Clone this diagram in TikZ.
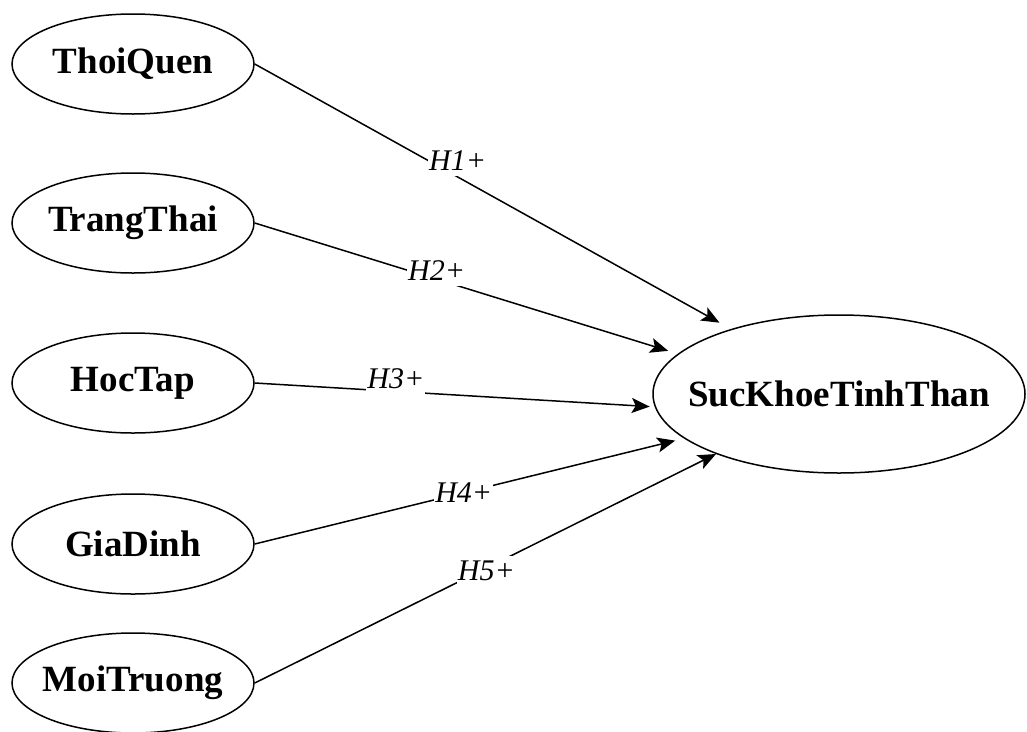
\documentclass[tikz,border=0pt]{standalone}
\usepackage{fontspec}
\setmainfont{Liberation Serif}
\usepackage{tikz}
\usetikzlibrary{shapes,arrows.meta}

\begin{document}
\begin{tikzpicture}[x=1pt, y=-1pt,
   factor/.style={draw, ellipse, line width=1.5pt, inner xsep=-10pt, inner ysep=0pt,
     minimum width=242pt, minimum height=100pt,
     font=\fontsize{37}{44}\selectfont\bfseries},
   link/.style={line width=1.5pt, -{Stealth[length=18pt, width=15pt, inset=4pt]}},
   hyp/.style={fill=white, inner xsep=1pt, inner ysep=5pt, font=\fontsize{30}{36}\selectfont\itshape}]
   \useasboundingbox (0,0) rectangle (1027,731);
   % predictors
   \node[factor] (thoiquen) at (133,64) {ThoiQuen};
   \node[factor] (trangthai) at (133,223) {TrangThai};
   \node[factor] (hoctap) at (133,383) {HocTap};
   \node[factor] (giadinh) at (133,544) {GiaDinh};
   \node[factor] (moitruong) at (133,683) {MoiTruong};
   % outcome
   \node[factor, inner xsep=-30pt, minimum width=372pt, minimum height=158pt] (suckhoe) at (839,394) {SucKhoeTinhThan};
   % hypotheses
   \draw[link, shorten >=13pt] (thoiquen.east) -- node[hyp, pos=.426, yshift=16pt] {H1+} (suckhoe.149.4);
   \draw[link, shorten >=10pt] (trangthai.east) -- node[hyp, pos=.43, yshift=8.5pt] {H2+} (suckhoe.166.7);
   \draw[link, shorten >=5pt] (hoctap.east) -- node[hyp, pos=.353, yshift=13pt] {H3+} (suckhoe.184.2);
   \draw[link, shorten >=9pt] (giadinh.east) -- node[hyp, pos=.487] {H4+} (suckhoe.196.5);
   \draw[link] (moitruong.east) -- node[hyp, pos=.502, yshift=-3pt] {H5+} (suckhoe.206.2);
\end{tikzpicture}
\end{document}
